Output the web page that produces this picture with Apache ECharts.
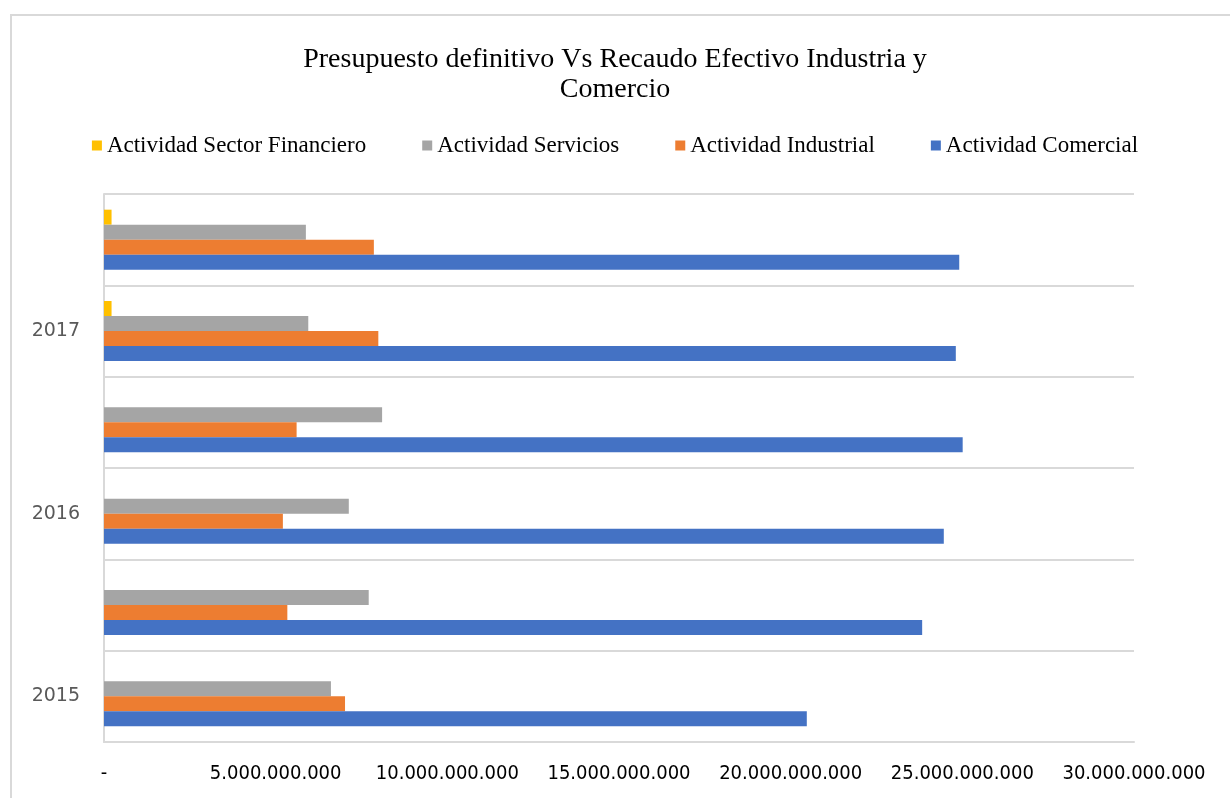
<!DOCTYPE html>
<html>
<head>
<meta charset="utf-8">
<script src="https://cdn.jsdelivr.net/npm/echarts@6/dist/echarts.min.js"></script>
<style>
    html, body { margin: 0; padding: 0; background: #fff; }
    #main { width: 1230px; height: 798px; }
</style>
</head>
<body>
<div id="main"></div>
<script>
// categorias del eje (solo se rotula una de cada dos)
let categorias = ['2015', '', '2016', '', '2017', ''];

let comercial = [20.47e9, 23.83e9, 24.46e9, 25.01e9, 24.81e9, 24.91e9];
let industrial = [7.02e9, 5.34e9, 5.21e9, 5.61e9, 7.99e9, 7.86e9];
let servicios = [6.61e9, 7.71e9, 7.13e9, 8.10e9, 5.95e9, 5.88e9];
let financiero = [0, 0, 0, 0, 0.22e9, 0.22e9];

let leyenda = ['Actividad Sector Financiero', 'Actividad Servicios', 'Actividad Industrial', 'Actividad Comercial'];

let chart = echarts.init(document.querySelector('#main'));

function miles(v) {
    if (v === 0) return '-';
    return String(v).replace(/\B(?=(\d{3})+(?!\d))/g, '.');
}

function serie(name, color, data) {
    return {
        name: name,
        type: 'bar',
        data: data,
        barWidth: 15,
        barGap: '0%',
        itemStyle: { color: color },
        animation: false
    };
}

let option = {
    backgroundColor: '#fff',
    title: {
        text: 'Presupuesto definitivo Vs Recaudo Efectivo Industria y\nComercio',
        left: 'center',
        top: 40,
        textStyle: {
            fontFamily: 'Liberation Serif',
            fontWeight: 'normal',
            fontSize: 28,
            lineHeight: 30,
            color: '#000'
        }
    },
    legend: {
        data: leyenda,
        left: 'center',
        top: 129,
        itemWidth: 10,
        itemHeight: 10,
        itemGap: 56,
        icon: 'rect',
        textStyle: {
            fontFamily: 'Liberation Serif',
            fontSize: 23,
            color: '#000'
        }
    },
    graphic: [{
        type: 'rect',
        shape: { x: 11, y: 15, width: 1240, height: 800 },
        style: { fill: 'none', stroke: '#d9d9d9', lineWidth: 2 },
        silent: true
    }],
    grid: {
        left: 104,
        right: 96,
        top: 194,
        bottom: 56
    },
    xAxis: {
        type: 'value',
        min: 0,
        max: 30e9,
        interval: 5e9,
        splitLine: { show: false },
        axisTick: { show: false },
        axisLine: { show: true, lineStyle: { color: '#d9d9d9', width: 2 } },
        axisLabel: {
            formatter: miles,
            margin: 22,
            fontFamily: 'DejaVu Sans Condensed',
            fontSize: 20,
            color: '#000'
        }
    },
    yAxis: {
        type: 'category',
        data: categorias,
        axisTick: { show: false },
        axisLine: { show: true, lineStyle: { color: '#d9d9d9', width: 2 } },
        splitLine: { show: true, lineStyle: { color: '#d9d9d9', width: 2 } },
        axisLabel: {
            interval: 0,
            margin: 24,
            fontFamily: 'DejaVu Sans',
            fontSize: 19,
            color: '#595959'
        }
    },
    // la primera serie queda arriba dentro de cada banda
    series: [
        serie('Actividad Sector Financiero', '#FFC000', financiero),
        serie('Actividad Servicios', '#A5A5A5', servicios),
        serie('Actividad Industrial', '#ED7D31', industrial),
        serie('Actividad Comercial', '#4472C4', comercial)
    ]
};

chart.setOption(option);
</script>
</body>
</html>
